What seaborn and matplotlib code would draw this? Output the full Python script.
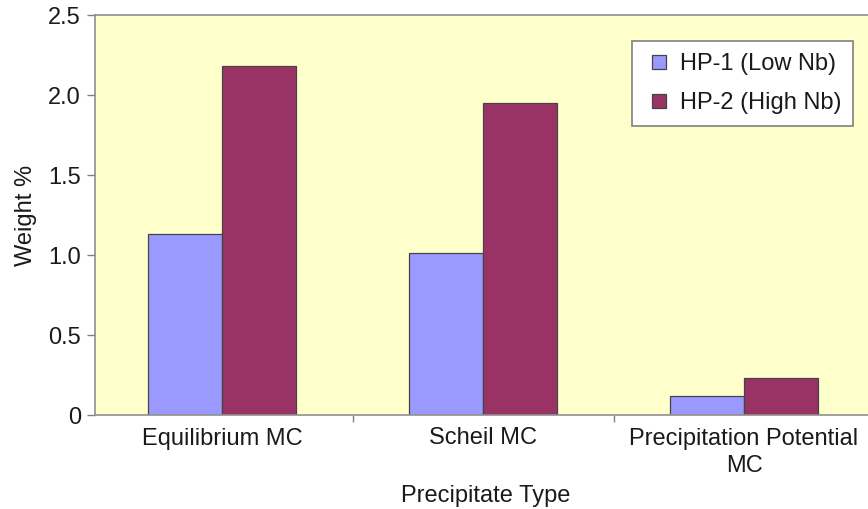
import matplotlib
matplotlib.use("Agg")
import matplotlib.pyplot as plt
from matplotlib.ticker import FixedLocator, NullFormatter
from matplotlib.lines import Line2D
import seaborn as sns
import pandas as pd

categories = ["Equilibrium MC", "Scheil MC", "Precipitation Potential\nMC"]
series_names = ["HP-1 (Low Nb)", "HP-2 (High Nb)"]
hp1_values = [1.13, 1.01, 0.12]
hp2_values = [2.18, 1.95, 0.23]
ytick_values = [0, 0.5, 1.0, 1.5, 2.0, 2.5]
ytick_labels = ["0", "0.5", "1.0", "1.5", "2.0", "2.5"]
colors = ["#9999FF", "#993366"]

df = pd.DataFrame({
    "Precipitate Type": categories * 2,
    "Weight %": hp1_values + hp2_values,
    "Series": [series_names[0]] * 3 + [series_names[1]] * 3,
})

sns.set_style("ticks")
plt.rcParams["font.family"] = ["Liberation Sans", "DejaVu Sans"]
FS = 17
TXT = "#1a1a1a"
EDGE = "#444444"

fig = plt.figure(figsize=(8.68, 5.09), dpi=100)
ax = fig.add_axes([95 / 868, 94 / 509, 773 / 868, 400 / 509])
ax.set_facecolor("#FFFFCC")

sns.barplot(data=df, x="Precipitate Type", y="Weight %", hue="Series",
            hue_order=series_names, palette=colors, width=0.567,
            edgecolor=EDGE, linewidth=0.9, saturation=1, ax=ax,
            order=categories)

ax.set_ylim(0, 2.5)
ax.set_xlim(-0.487, 2.475)
ax.set_yticks(ytick_values)
ax.set_yticklabels(ytick_labels)

ax.set_xticks(range(len(categories)))
ax.set_xticklabels(categories, fontsize=FS, color=TXT, linespacing=1.3)
ax.tick_params(axis="x", which="major", length=0, pad=9)
ax.xaxis.set_minor_locator(FixedLocator([-0.5, 0.5, 1.5, 2.5]))
ax.xaxis.set_minor_formatter(NullFormatter())
ax.tick_params(axis="x", which="minor", length=5, width=1, color="#808080", direction="out")
ax.tick_params(axis="y", length=6, width=1, color="#808080", direction="out",
               labelsize=FS, labelcolor=TXT, pad=4)

for side in ["left", "bottom", "top", "right"]:
    ax.spines[side].set_color("#909090")
    ax.spines[side].set_linewidth(1.2)
ax.spines["right"].set_visible(False)

ax.set_xlabel("Precipitate Type", fontsize=FS, color=TXT)
ax.set_ylabel("Weight %", fontsize=FS, color=TXT, labelpad=8)
ax.xaxis.set_label_coords(0.506, -0.176)

handles = [Line2D([], [], linestyle="none", marker="s", markersize=9.5,
                  markerfacecolor=c, markeredgecolor=EDGE, markeredgewidth=0.9)
           for c in colors]
leg = ax.legend(handles, series_names, loc="upper right", bbox_to_anchor=(0.981, 0.935),
                borderaxespad=0, fontsize=FS, frameon=True, fancybox=False,
                framealpha=1, edgecolor="#808080", handlelength=1.3,
                handletextpad=0.25, labelspacing=0.72, borderpad=0.5)
leg.get_frame().set_linewidth(1.2)
for t in leg.get_texts():
    t.set_color(TXT)

fig.savefig("out.png", dpi=100, facecolor="white")
